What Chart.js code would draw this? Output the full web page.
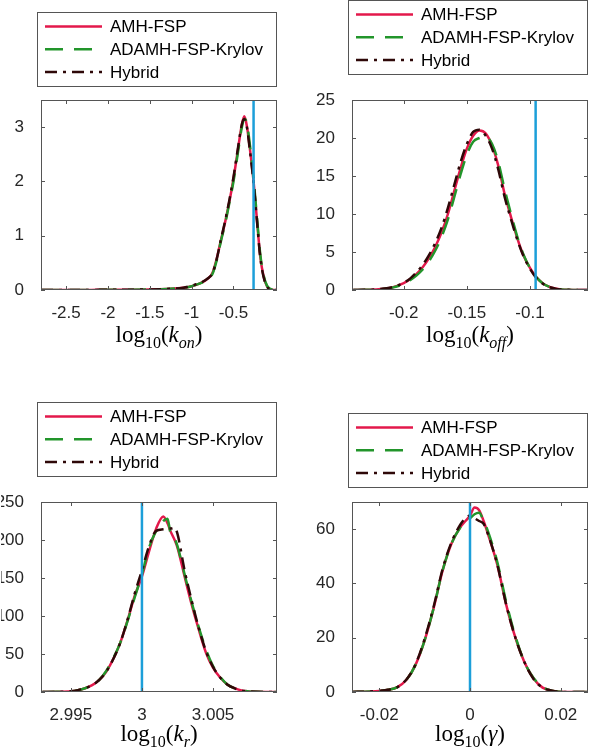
<!DOCTYPE html>
<html>
<head>
<meta charset="utf-8">
<script src="https://cdn.jsdelivr.net/npm/chart.js@4.4.0/dist/chart.umd.min.js"></script>
<style>
  body { margin: 0; background: #fff; width: 589px; height: 750px; position: relative; overflow: hidden; }
  .panel { position: absolute; }
</style>
</head>
<body>
<div class="panel" style="left:0;top:0;width:295px;height:370px"><canvas id="kon"></canvas></div>
<div class="panel" style="left:295px;top:0;width:294px;height:370px"><canvas id="koff"></canvas></div>
<div class="panel" style="left:0;top:370px;width:295px;height:380px"><canvas id="kr"></canvas></div>
<div class="panel" style="left:295px;top:370px;width:294px;height:380px"><canvas id="gamma"></canvas></div>
<script>
// series names
const seriesLabels = ['AMH-FSP', 'ADAMH-FSP-Krylov', 'Hybrid'];

// log10(k_on)
const konX = [-2.8, -2.5, -2.2, -2.0, -1.8, -1.5, -1.3, -1.1, -1.0, -0.9, -0.8, -0.75, -0.7, -0.65, -0.6, -0.55, -0.5, -0.45, -0.4, -0.37, -0.34, -0.3, -0.26, -0.22, -0.18, -0.14, -0.1, -0.06, -0.02, 0.02];
const konAMH = [0, 0, 0.002, 0.003, 0.005, 0.01, 0.02, 0.04, 0.07, 0.12, 0.22, 0.32, 0.58, 0.92, 1.25, 1.62, 2.05, 2.55, 3.05, 3.2, 3.02, 2.55, 2.0, 1.3, 0.62, 0.25, 0.07, 0.015, 0, 0];
const konADAMH = [0, 0, 0.002, 0.003, 0.005, 0.01, 0.02, 0.04, 0.07, 0.12, 0.21, 0.3, 0.55, 0.9, 1.22, 1.6, 2.0, 2.5, 3.0, 3.15, 3.08, 2.62, 2.05, 1.35, 0.66, 0.27, 0.08, 0.02, 0, 0];
const konHybrid = [0, 0, 0.002, 0.003, 0.005, 0.01, 0.02, 0.04, 0.08, 0.13, 0.22, 0.31, 0.57, 0.93, 1.27, 1.65, 2.08, 2.58, 3.05, 3.15, 3.0, 2.52, 1.98, 1.28, 0.6, 0.24, 0.06, 0.015, 0, 0];
const konTicksX = [-2.5, -2, -1.5, -1, -0.5];
const konTicksY = [0, 1, 2, 3];
const konTrue = -0.26;

// log10(k_off)
const koffX = [-0.24, -0.23, -0.22, -0.21, -0.2, -0.195, -0.19, -0.185, -0.18, -0.175, -0.17, -0.165, -0.16, -0.155, -0.15, -0.145, -0.14, -0.135, -0.13, -0.125, -0.12, -0.115, -0.11, -0.105, -0.1, -0.095, -0.09, -0.085, -0.08, -0.075, -0.07, -0.06, -0.054];
const koffAMH = [0, 0.02, 0.1, 0.3, 0.9, 1.4, 2.1, 3.0, 4.2, 5.7, 7.6, 10.0, 13.0, 16.0, 18.6, 20.3, 21.0, 20.6, 19.0, 16.3, 12.6, 9.6, 6.8, 4.5, 2.9, 1.7, 0.9, 0.45, 0.2, 0.08, 0.03, 0, 0];
const koffADAMH = [0, 0.02, 0.1, 0.28, 0.8, 1.3, 1.9, 2.7, 3.8, 5.2, 7.0, 9.3, 12.2, 15.2, 17.8, 19.5, 20.0, 20.2, 19.2, 16.8, 13.2, 10.0, 7.0, 4.6, 2.9, 1.7, 0.9, 0.45, 0.2, 0.08, 0.03, 0, 0];
const koffHybrid = [0, 0.02, 0.1, 0.32, 0.95, 1.5, 2.3, 3.3, 4.6, 6.2, 8.2, 10.8, 13.8, 16.8, 19.2, 20.8, 21.1, 20.3, 18.6, 15.8, 12.2, 9.3, 6.6, 4.4, 2.8, 1.6, 0.85, 0.4, 0.18, 0.07, 0.02, 0, 0];
const koffTicksX = [-0.2, -0.15, -0.1];
const koffTicksY = [0, 5, 10, 15, 20, 25];
const koffTrue = -0.0955;

// log10(k_r)
const krX = [2.993, 2.994, 2.995, 2.9955, 2.996, 2.9965, 2.997, 2.9975, 2.998, 2.9985, 2.999, 2.9995, 3.0, 3.0005, 3.001, 3.0015, 3.0018, 3.002, 3.0023, 3.0025, 3.003, 3.0035, 3.004, 3.0045, 3.005, 3.0055, 3.006, 3.0065, 3.007, 3.0075, 3.008, 3.0095];
const krAMH = [0, 0.2, 1, 2.5, 5, 9, 16, 27, 44, 66, 95, 127, 152, 185, 215, 231, 222, 212, 200, 190, 152, 115, 82, 52, 32, 19, 10, 5, 2, 0.8, 0.3, 0];
const krADAMH = [0, 0.2, 1, 2.5, 5, 9, 16, 28, 45, 66, 94, 125, 155, 190, 212, 225, 228, 210, 202, 192, 155, 118, 85, 56, 34, 20, 10, 5, 2, 0.8, 0.3, 0];
const krHybrid = [0, 0.2, 1, 2.5, 5, 9, 16, 27, 44, 66, 96, 130, 160, 192, 212, 214, 215, 215, 216, 208, 160, 120, 84, 54, 33, 19, 10, 5, 2, 0.8, 0.3, 0];
const krTicksX = [2.995, 3, 3.005];
const krTicksY = [0, 50, 100, 150, 200, 250];
const krTrue = 3.0;

// log10(gamma)
const gammaX = [-0.026, -0.022, -0.02, -0.018, -0.016, -0.014, -0.012, -0.01, -0.008, -0.006, -0.004, -0.002, -0.001, 0, 0.001, 0.002, 0.003, 0.004, 0.006, 0.008, 0.01, 0.012, 0.014, 0.016, 0.018, 0.02, 0.022, 0.026];
const gammaAMH = [0, 0.2, 0.4, 0.8, 1.8, 4.5, 10, 19, 31, 45, 55, 61, 63, 65, 68, 67, 63, 58, 47, 32, 20, 11, 5, 1.6, 0.5, 0.1, 0, 0];
const gammaADAMH = [0, 0.2, 0.4, 0.8, 1.8, 4.5, 10, 19, 31, 45, 55, 61, 63, 64, 65.5, 66, 63, 59, 48, 33, 20.5, 11, 5.2, 1.8, 0.5, 0.1, 0, 0];
const gammaHybrid = [0, 0.2, 0.4, 0.8, 1.8, 4.6, 10.2, 19.5, 31.5, 45.5, 55.5, 62, 64, 65, 64, 63, 62, 58, 47, 32, 20, 11, 4.8, 1.6, 0.5, 0.1, 0, 0];
const gammaTicksX = [-0.02, 0, 0.02];
const gammaTicksY = [0, 20, 40, 60];
const gammaTrue = 0;

const RED = '#e3184b', GREEN = '#22952b', DARK = '#2e0808', BLUE = '#1c9fd9';
const TICK_COLOR = '#262626';

function series(i, xs, ys) {
  const colors = [RED, GREEN, DARK];
  const dashes = [[], [18, 11], [12, 6, 3, 6]];
  return {
    label: seriesLabels[i],
    data: xs.map((x, k) => ({ x: x, y: ys[k] })),
    borderColor: colors[i],
    borderWidth: 2.5,
    borderDash: dashes[i],
    pointRadius: 0,
    cubicInterpolationMode: 'monotone',
    fill: false,
    order: 3 - i
  };
}

function trueLine(x, ymax) {
  return {
    label: '',
    isTrue: true,
    data: [{ x: x, y: 0 }, { x: x, y: ymax }],
    borderColor: BLUE,
    borderWidth: 2.5,
    pointRadius: 0,
    order: 0
  };
}

// axes box with inward ticks, matlab style
const frame = {
  id: 'frame',
  afterDraw(chart) {
    const { ctx, chartArea: a, scales } = chart;
    ctx.save();
    ctx.strokeStyle = '#555';
    ctx.lineWidth = 1;
    ctx.strokeRect(a.left + 0.5, a.top + 0.5, a.right - a.left - 1, a.bottom - a.top - 1);
    ctx.beginPath();
    scales.x.ticks.forEach(t => {
      const px = Math.round(scales.x.getPixelForValue(t.value)) + 0.5;
      ctx.moveTo(px, a.bottom); ctx.lineTo(px, a.bottom - 4);
      ctx.moveTo(px, a.top); ctx.lineTo(px, a.top + 4);
    });
    scales.y.ticks.forEach(t => {
      const py = Math.round(scales.y.getPixelForValue(t.value)) + 0.5;
      ctx.moveTo(a.left, py); ctx.lineTo(a.left + 4, py);
      ctx.moveTo(a.right, py); ctx.lineTo(a.right - 4, py);
    });
    ctx.stroke();
    ctx.restore();
  }
};

const boxLegend = {
  id: 'boxLegend',
  afterDraw(chart, args, o) {
    const { ctx, chartArea: a } = chart;
    const left = Math.round(a.left) - 4, top = o.top, w = Math.round(a.right) - left, h = 75;
    ctx.save();
    ctx.fillStyle = '#fff';
    ctx.fillRect(left, top, w, h);
    ctx.strokeStyle = '#555';
    ctx.lineWidth = 1;
    ctx.strokeRect(left + 0.5, top + 0.5, w - 1, h - 1);
    chart.data.datasets.filter(d => !d.isTrue).forEach((d, i) => {
      const y = top + 14.5 + i * 22.8;
      ctx.strokeStyle = d.borderColor;
      ctx.lineWidth = d.borderWidth;
      ctx.setLineDash(d.borderDash);
      ctx.beginPath();
      ctx.moveTo(left + 8, y);
      ctx.lineTo(left + 65, y);
      ctx.stroke();
      ctx.setLineDash([]);
      ctx.fillStyle = '#000';
      ctx.font = '17px "Liberation Sans", Arial, sans-serif';
      ctx.textBaseline = 'middle';
      ctx.fillText(d.label, left + 73, y + 1);
    });
    ctx.restore();
  }
};

// x label like log_10(k_on), drawn as pieces
const mathTitle = {
  id: 'mathTitle',
  afterDraw(chart, args, o) {
    const { ctx, chartArea: a } = chart;
    const fonts = {
      n: '23px "Liberation Serif", serif',
      s: '16px "Liberation Serif", serif',
      i: 'italic 23px "Liberation Serif", serif',
      is: 'italic 16px "Liberation Serif", serif'
    };
    ctx.save();
    let total = 0;
    o.parts.forEach(p => { ctx.font = fonts[p[1]]; total += ctx.measureText(p[0]).width; });
    let x = (a.left + a.right) / 2 - total / 2;
    const base = a.bottom + o.gap;
    ctx.fillStyle = '#000';
    ctx.textBaseline = 'alphabetic';
    o.parts.forEach(p => {
      ctx.font = fonts[p[1]];
      const dy = (p[1] === 's' || p[1] === 'is') ? 6 : 0;
      ctx.fillText(p[0], x, base + dy);
      x += ctx.measureText(p[0]).width;
    });
    ctx.restore();
  }
};

function makeChart(id, c) {
  const datasets = [
    series(0, c.xs, c.amh),
    series(1, c.xs, c.adamh),
    series(2, c.xs, c.hybrid),
    trueLine(c.trueVal, c.yMax)
  ];
  const tickFont = { family: '"Liberation Sans", Arial, sans-serif', size: 17 };
  return new Chart(document.getElementById(id), {
    type: 'line',
    data: { datasets: datasets },
    options: {
      responsive: true,
      maintainAspectRatio: false,
      animation: false,
      layout: { padding: c.pad },
      scales: {
        x: {
          type: 'linear', min: c.xMin, max: c.xMax,
          afterBuildTicks: s => { s.ticks = c.ticksX.map(v => ({ value: v })); },
          afterFit: s => { s.height = 40; },
          grid: { display: false }, border: { display: false },
          ticks: { font: tickFont, color: TICK_COLOR, padding: 5, maxRotation: 0, autoSkip: false, callback: v => String(v) }
        },
        y: {
          min: 0, max: c.yMax,
          afterBuildTicks: s => { s.ticks = c.ticksY.map(v => ({ value: v })); },
          afterFit: s => { s.width = 40; },
          grid: { display: false }, border: { display: false },
          ticks: { font: tickFont, color: TICK_COLOR, padding: 9, autoSkip: false, callback: v => String(v) }
        }
      },
      plugins: {
        legend: { display: false },
        tooltip: { enabled: false },
        boxLegend: { top: c.legendTop },
        mathTitle: { parts: c.title, gap: c.titleGap }
      }
    },
    plugins: [frame, boxLegend, mathTitle]
  });
}

makeChart('kon', {
  xs: konX, amh: konAMH, adamh: konADAMH, hybrid: konHybrid,
  xMin: -2.8, xMax: 0.02, yMax: 3.5, ticksX: konTicksX, ticksY: konTicksY, trueVal: konTrue,
  pad: { left: 1, right: 18, top: 100, bottom: 40 }, legendTop: 12, titleGap: 52,
  title: [['log', 'n'], ['10', 's'], ['(', 'n'], ['k', 'i'], ['on', 'is'], [')', 'n']]
});
makeChart('koff', {
  xs: koffX, amh: koffAMH, adamh: koffADAMH, hybrid: koffHybrid,
  xMin: -0.241, xMax: -0.054, yMax: 25, ticksX: koffTicksX, ticksY: koffTicksY, trueVal: koffTrue,
  pad: { left: 17, right: 1, top: 100, bottom: 40 }, legendTop: 0, titleGap: 52,
  title: [['log', 'n'], ['10', 's'], ['(', 'n'], ['k', 'i'], ['off', 'is'], [')', 'n']]
});
makeChart('kr', {
  xs: krX, amh: krAMH, adamh: krADAMH, hybrid: krHybrid,
  xMin: 2.9929, xMax: 3.0095, yMax: 250, ticksX: krTicksX, ticksY: krTicksY, trueVal: krTrue,
  pad: { left: 1, right: 18, top: 132, bottom: 18 }, legendTop: 32, titleGap: 49,
  title: [['log', 'n'], ['10', 's'], ['(', 'n'], ['k', 'i'], ['r', 'is'], [')', 'n']]
});
makeChart('gamma', {
  xs: gammaX, amh: gammaAMH, adamh: gammaADAMH, hybrid: gammaHybrid,
  xMin: -0.026, xMax: 0.026, yMax: 70, ticksX: gammaTicksX, ticksY: gammaTicksY, trueVal: gammaTrue,
  pad: { left: 17, right: 1, top: 132, bottom: 18 }, legendTop: 43, titleGap: 49,
  title: [['log', 'n'], ['10', 's'], ['(', 'n'], ['γ', 'i'], [')', 'n']]
});
</script>
</body>
</html>
